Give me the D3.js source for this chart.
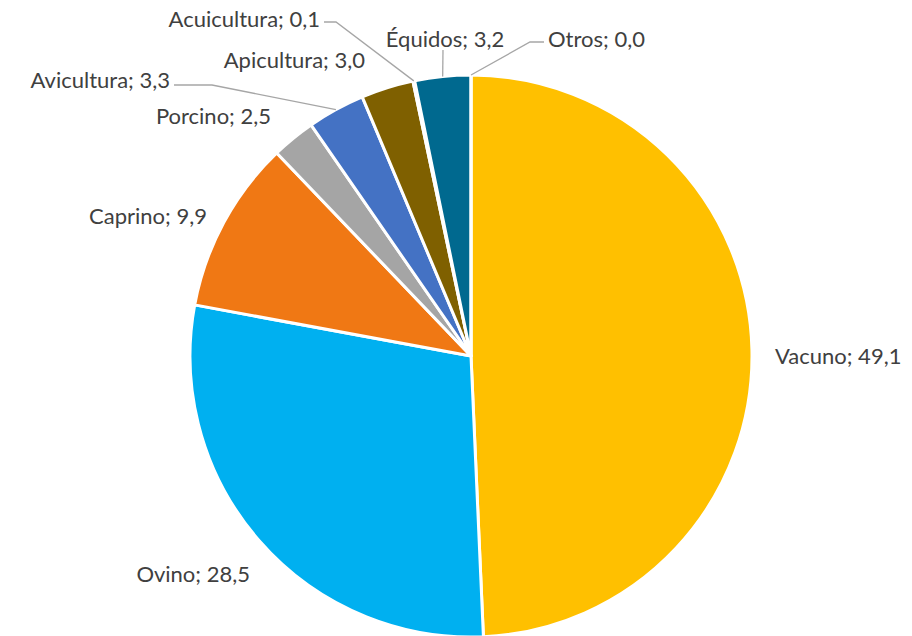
<!DOCTYPE html>
<html><head><meta charset="utf-8">
<script src="https://cdn.jsdelivr.net/npm/d3@7"></script>
<style>body{margin:0;background:#fff;} text{font-family:Lato,"Open Sans",sans-serif;}</style>
</head><body>
<svg id="c" width="912" height="636"></svg>
<script>
const categories = ["Vacuno","Ovino","Caprino","Porcino","Avicultura","Apicultura","Acuicultura","Équidos","Otros"];
const values = [49.1,28.5,9.9,2.5,3.3,3.0,0.1,3.2,0.0];
const colors = ["#FFC000","#00B0F0","#F07814","#A5A5A5","#4472C4","#7F6000","#264478","#00698F","#9E480E"];

// label layout (positions only)
const labelPos = {
  "Vacuno":{x:775,y:355,a:"start"},
  "Ovino":{x:250,y:573,a:"end"},
  "Caprino":{x:207,y:215,a:"end"},
  "Porcino":{x:271,y:115,a:"end"},
  "Avicultura":{x:170,y:79,a:"end",line:[[174,85],[212,85]]},
  "Apicultura":{x:365,y:59,a:"end"},
  "Acuicultura":{x:320,y:18,a:"end",line:[[324,22],[336,22]]},
  "Équidos":{x:445,y:38,a:"middle",line:[[443,50]]},
  "Otros":{x:548,y:38,a:"start",line:[[544,42],[530,42]]}
};

const cx=471, cy=356, r=281;
const svg=d3.select("#c");
const data=categories.map((c,i)=>({cat:c,value:values[i],color:colors[i]}));
const pie=d3.pie().value(d=>d.value).sort(null);
const arcs=pie(data);
const arc=d3.arc().innerRadius(0).outerRadius(r);
const g=svg.append("g").attr("transform",`translate(${cx},${cy})`);
g.selectAll("path").data(arcs).join("path")
  .attr("d",arc).attr("fill",d=>d.data.color)
  .attr("stroke","#fff").attr("stroke-width",3).attr("stroke-linejoin","round");

const edge=d=>{const a=(d.startAngle+d.endAngle)/2;return [cx+r*Math.sin(a),cy-r*Math.cos(a)];};
arcs.forEach(d=>{
  const lp=labelPos[d.data.cat];
  if(lp.line){
    const pts=lp.line.concat([edge(d)]);
    svg.append("path").attr("d",d3.line()(pts)).attr("fill","none").attr("stroke","#A6A6A6").attr("stroke-width",1.3);
  }
  svg.append("text").attr("x",lp.x).attr("y",lp.y).attr("text-anchor",lp.a)
    .attr("dominant-baseline","central").attr("font-size",22).attr("fill","#404040")
    .text(d.data.cat+"; "+d3.format(".1f")(d.data.value).replace(".",","));
});
</script>
</body></html>
